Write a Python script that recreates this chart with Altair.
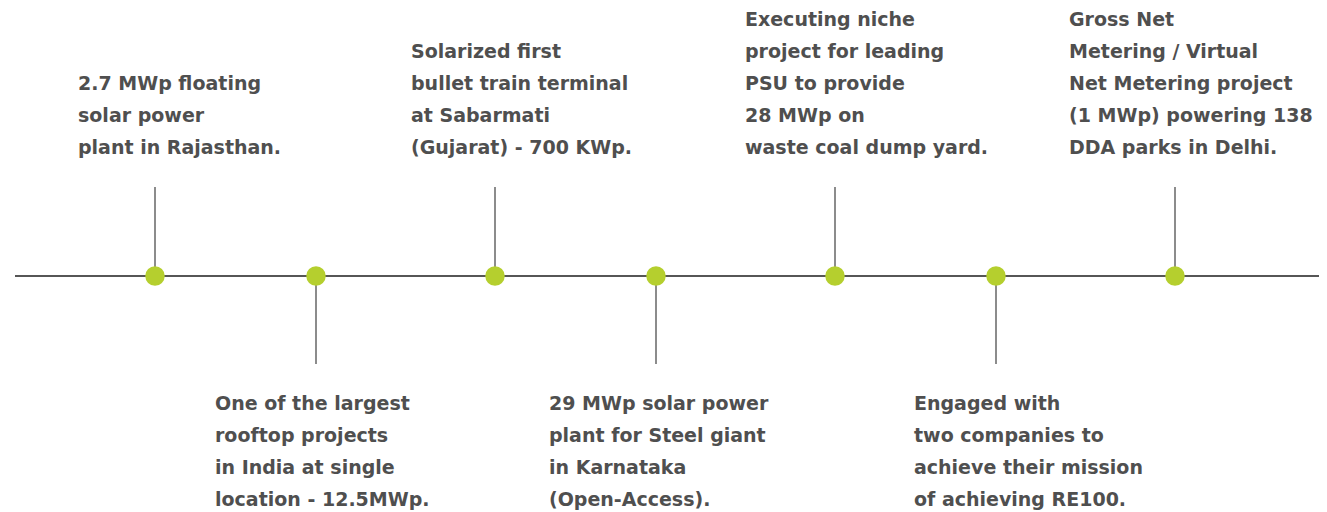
import altair as alt
import pandas as pd

# Timeline events (position along the timeline, label start, side of the line)
event_pos = [155, 316, 495, 656, 835, 996, 1175]
label_start = [78, 215, 411, 549, 745, 914, 1069]
side = ["up", "down", "up", "down", "up", "down", "up"]
labels = [
    ["2.7 MWp floating", "solar power", "plant in Rajasthan."],
    ["One of the largest", "rooftop projects", "in India at single", "location - 12.5MWp."],
    ["Solarized first", "bullet train terminal", "at Sabarmati", "(Gujarat) - 700 KWp."],
    ["29 MWp solar power", "plant for Steel giant", "in Karnataka", "(Open-Access)."],
    ["Executing niche", "project for leading", "PSU to provide", "28 MWp on", "waste coal dump yard."],
    ["Engaged with", "two companies to", "achieve their mission", "of achieving RE100."],
    ["Gross Net", "Metering / Virtual", "Net Metering project", "(1 MWp) powering 138", "DDA parks in Delhi."],
]
line_start = [15]
line_end = [1327]

W, H = 1311, 504
M = 8  # page margin

df = pd.DataFrame({"pos": event_pos, "lx": label_start, "side": side})
line_df = pd.DataFrame({"x": line_start, "x2": line_end})

# one row per text line; "row" counts text rows: upper blocks end at row 0,
# lower blocks start at row 8 (rows 1..7 are the timeline band)
rows = []
for pos, lx, sd, lines in zip(event_pos, label_start, side, labels):
    n = len(lines)
    for i, t in enumerate(lines):
        r = i - (n - 1) if sd == "up" else 8 + i
        rows.append({"lx": lx, "row": r, "text": t})
text_df = pd.DataFrame(rows)

xs = alt.Scale(domain=[M, M + W], range=[0, W])
ys = alt.Scale(domain=[-4, 11], range=[20 - M, 500 - M])
FONT = "DejaVu Sans"
TEXT_COLOR = "#4f4f4f"


def py(v):
    return v - M


base = alt.Chart(df)

timeline = alt.Chart(line_df).mark_rule(color="#1e1e1e", strokeWidth=1.5).encode(
    x=alt.X("x:Q", scale=xs, axis=None),
    x2="x2:Q",
    y=alt.value(py(276)),
)

stems_up = base.transform_filter(alt.datum.side == "up").mark_rule(
    color="#666666", strokeWidth=1.5
).encode(
    x=alt.X("pos:Q", scale=xs, axis=None),
    y=alt.value(py(187)),
    y2=alt.value(py(276)),
)
stems_down = base.transform_filter(alt.datum.side == "down").mark_rule(
    color="#666666", strokeWidth=1.5
).encode(
    x=alt.X("pos:Q", scale=xs, axis=None),
    y=alt.value(py(276)),
    y2=alt.value(py(364)),
)

dots = base.mark_circle(size=380, color="#b5cf2e", opacity=1).encode(
    x=alt.X("pos:Q", scale=xs, axis=None),
    y=alt.value(py(276)),
)

texts = alt.Chart(text_df).mark_text(
    align="left", baseline="middle", font=FONT, fontWeight="bold", fontSize=19,
    color=TEXT_COLOR,
).encode(
    x=alt.X("lx:Q", scale=xs, axis=None),
    y=alt.Y("row:Q", scale=ys, axis=None),
    text="text:N",
)

chart = alt.layer(timeline, stems_up, stems_down, dots, texts).properties(
    width=W, height=H, padding=0, background="white",
    autosize=alt.AutoSizeParams(type="none"),
).configure_view(strokeWidth=0, stroke="transparent")

chart.save("out.html", embed_options={"renderer": "svg", "actions": False})
